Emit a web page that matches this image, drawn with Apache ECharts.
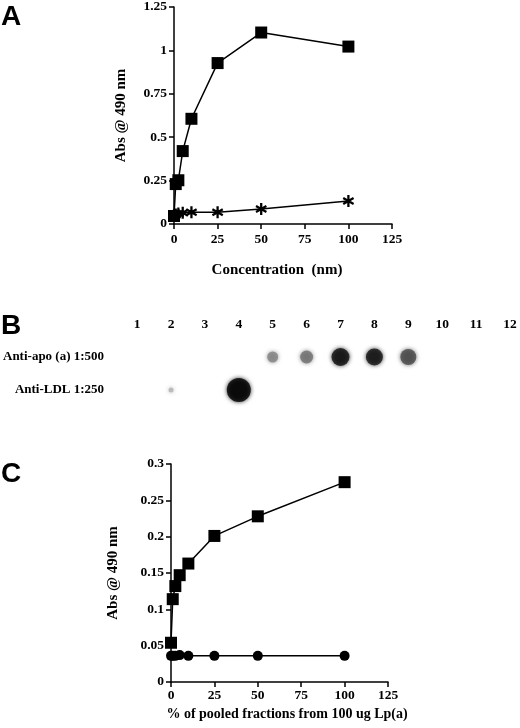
<!DOCTYPE html>
<html lang="en">
<head>
    <meta charset="UTF-8">
    <title>Lp(a) ELISA</title>
    <style>
        html, body {
            margin: 0;
            padding: 0;
            background: #fff;
        }

        #chart {
            width: 520px;
            height: 728px;
        }
    </style>
</head>
<body>
<div id="chart"></div>
<script src="https://cdn.jsdelivr.net/npm/echarts@6/dist/echarts.min.js"></script>
<script type="text/javascript">
    // panel A: concentration (nm) vs Abs @ 490 nm
    var concA = [0, 1, 2.5, 5, 10, 25, 50, 100];
    var lpaA = [0.046, 0.23, 0.252, 0.42, 0.606, 0.927, 1.103, 1.022];
    var ctrlA = [0.05, 0.055, 0.06, 0.065, 0.068, 0.068, 0.086, 0.133];

    // panel B: dot blot, lanes 1-12, relative spot darkness and spread
    var lanes = [1, 2, 3, 4, 5, 6, 7, 8, 9, 10, 11, 12];
    var rowNames = ['Anti-apo (a) 1:500', 'Anti-LDL 1:250'];
    var apoSignal = [0, 0, 0, 0, 0.42, 0.5, 0.93, 0.91, 0.67, 0, 0, 0];
    var apoSpread = [0, 0, 0, 0, 0.35, 0.45, 0.7, 0.65, 0.6, 0, 0, 0];
    var ldlSignal = [0, 0.22, 0, 1, 0, 0, 0, 0, 0, 0, 0, 0];
    var ldlSpread = [0, 0.05, 0, 1, 0, 0, 0, 0, 0, 0, 0, 0];

    // panel C: % of pooled fractions vs Abs @ 490 nm
    var pctC = [0, 1, 2.5, 5, 10, 25, 50, 100];
    var lpaC = [0.054, 0.114, 0.132, 0.147, 0.163, 0.201, 0.228, 0.275];
    var ctrlC = [0.036, 0.036, 0.036, 0.037, 0.036, 0.036, 0.036, 0.036];

    var ticksA = {min: 0, max: 125, interval: 25};
    var ticksAy = {min: 0, max: 1.25, interval: 0.25};
    var ticksCy = {min: 0, max: 0.3, interval: 0.05};

    var serif = 'Liberation Serif';
    var chart = echarts.init(document.getElementById('chart'), null, {renderer: 'canvas'});

    function pairs(xs, ys) {
        return xs.map(function (x, i) {
            return [x, ys[i]];
        });
    }

    // six armed asterisk marker
    function asterisk() {
        var out = '';
        [90, 30, -30].forEach(function (deg) {
            var a = deg * Math.PI / 180, L = 10, w = 1.9;
            var ux = Math.cos(a), uy = Math.sin(a), nx = -uy, ny = ux;
            var p = [
                [10 + L * ux + w * nx, 10 + L * uy + w * ny],
                [10 + L * ux - w * nx, 10 + L * uy - w * ny],
                [10 - L * ux - w * nx, 10 - L * uy - w * ny],
                [10 - L * ux + w * nx, 10 - L * uy + w * ny]
            ].map(function (q) {
                return q[0].toFixed(2) + ',' + q[1].toFixed(2);
            });
            out += 'M' + p[0] + 'L' + p[1] + 'L' + p[2] + 'L' + p[3] + 'Z';
        });
        return 'path://' + out;
    }

    function spots(signal, spread, row) {
        var pts = [];
        lanes.forEach(function (lane, i) {
            if (!signal[i]) return;
            var g = Math.round(225 * (1 - signal[i]));
            var c = 'rgb(' + g + ',' + g + ',' + g + ')';
            pts.push({
                value: [lane, row],
                symbolSize: 4 + 20 * spread[i],
                itemStyle: {color: c, shadowBlur: 4, shadowColor: c}
            });
        });
        return pts;
    }

    function numAxis(grid, t, extra) {
        var ax = {
            type: 'value',
            gridIndex: grid,
            min: t.min,
            max: t.max,
            interval: t.interval,
            splitLine: {show: false},
            axisLine: {show: true, lineStyle: {color: '#000', width: 1.5}},
            axisTick: {show: true, length: 5, lineStyle: {color: '#000', width: 1.5}},
            axisLabel: {color: '#000', fontFamily: serif, fontWeight: 'bold', fontSize: 13},
            nameLocation: 'middle',
            nameTextStyle: {color: '#000', fontFamily: serif, fontWeight: 'bold', fontSize: 15}
        };
        return Object.assign(ax, extra);
    }

    function letter(txt, top) {
        return {
            type: 'text', left: 1, top: top,
            style: {text: txt, fill: '#000', font: 'bold 28px "Liberation Sans"'}
        };
    }

    var line = {
        type: 'line',
        color: '#000',
        lineStyle: {color: '#000', width: 1.5},
        itemStyle: {color: '#000'},
        animation: false
    };

    chart.setOption({
        animation: false,
        grid: [
            {left: 174, top: 6, width: 218, height: 218},
            {left: 135, top: 340.5, width: 375, height: 66},
            {left: 171, top: 464, width: 217, height: 218}
        ],
        graphic: [letter('A', 3), letter('B', 312), letter('C', 460)],
        xAxis: [
            numAxis(0, ticksA, {name: 'Concentration  (nm)', nameGap: 39,
                axisLabel: {color: '#000', fontFamily: serif, fontWeight: 'bold', fontSize: 13.5, margin: 9},
                nameTextStyle: {color: '#000', fontFamily: serif, fontWeight: 'bold', fontSize: 15, padding: [0, 12, 0, 0]}}),
            {
                type: 'value', gridIndex: 1, min: 1, max: 12, interval: 1, position: 'top',
                axisLine: {show: false}, axisTick: {show: false}, splitLine: {show: false},
                axisLabel: {color: '#000', fontFamily: serif, fontWeight: 'bold', fontSize: 13.5, margin: 9}
            },
            numAxis(2, ticksA, {name: '% of pooled fractions from 100 ug Lp(a)', nameGap: 25,
                axisLabel: {color: '#000', fontFamily: serif, fontWeight: 'bold', fontSize: 13.5, margin: 7},
                nameTextStyle: {color: '#000', fontFamily: serif, fontWeight: 'bold', fontSize: 14, padding: [0, 0, 0, 15]}})
        ],
        yAxis: [
            numAxis(0, ticksAy, {name: 'Abs @ 490 nm', nameGap: 45,
                axisLabel: {color: '#000', fontFamily: serif, fontWeight: 'bold', fontSize: 13.5, margin: 7}}),
            {
                type: 'category', gridIndex: 1, data: rowNames, inverse: true,
                axisLine: {show: false}, axisTick: {show: false}, splitLine: {show: false},
                axisLabel: {color: '#000', fontFamily: serif, fontWeight: 'bold', fontSize: 13, margin: 33}
            },
            numAxis(2, ticksCy, {name: 'Abs @ 490 nm', nameGap: 50,
                axisLabel: {color: '#000', fontFamily: serif, fontWeight: 'bold', fontSize: 13.5, margin: 7}})
        ],
        series: [
            Object.assign({}, line, {
                name: 'control A', xAxisIndex: 0, yAxisIndex: 0,
                symbol: asterisk(), symbolKeepAspect: true, symbolSize: 12,
                data: pairs(concA, ctrlA)
            }),
            Object.assign({}, line, {
                name: 'Lp(a) A', xAxisIndex: 0, yAxisIndex: 0,
                symbol: 'rect', symbolSize: 12,
                data: pairs(concA, lpaA)
            }),
            {
                type: 'scatter', name: 'apo(a)', xAxisIndex: 1, yAxisIndex: 1,
                data: spots(apoSignal, apoSpread, rowNames[0])
            },
            {
                type: 'scatter', name: 'LDL', xAxisIndex: 1, yAxisIndex: 1,
                data: spots(ldlSignal, ldlSpread, rowNames[1])
            },
            Object.assign({}, line, {
                name: 'control C', xAxisIndex: 2, yAxisIndex: 2,
                symbol: 'circle', symbolSize: 10,
                data: pairs(pctC, ctrlC)
            }),
            Object.assign({}, line, {
                name: 'Lp(a) C', xAxisIndex: 2, yAxisIndex: 2,
                symbol: 'rect', symbolSize: 12,
                data: pairs(pctC, lpaC)
            })
        ]
    });
</script>
</body>
</html>
